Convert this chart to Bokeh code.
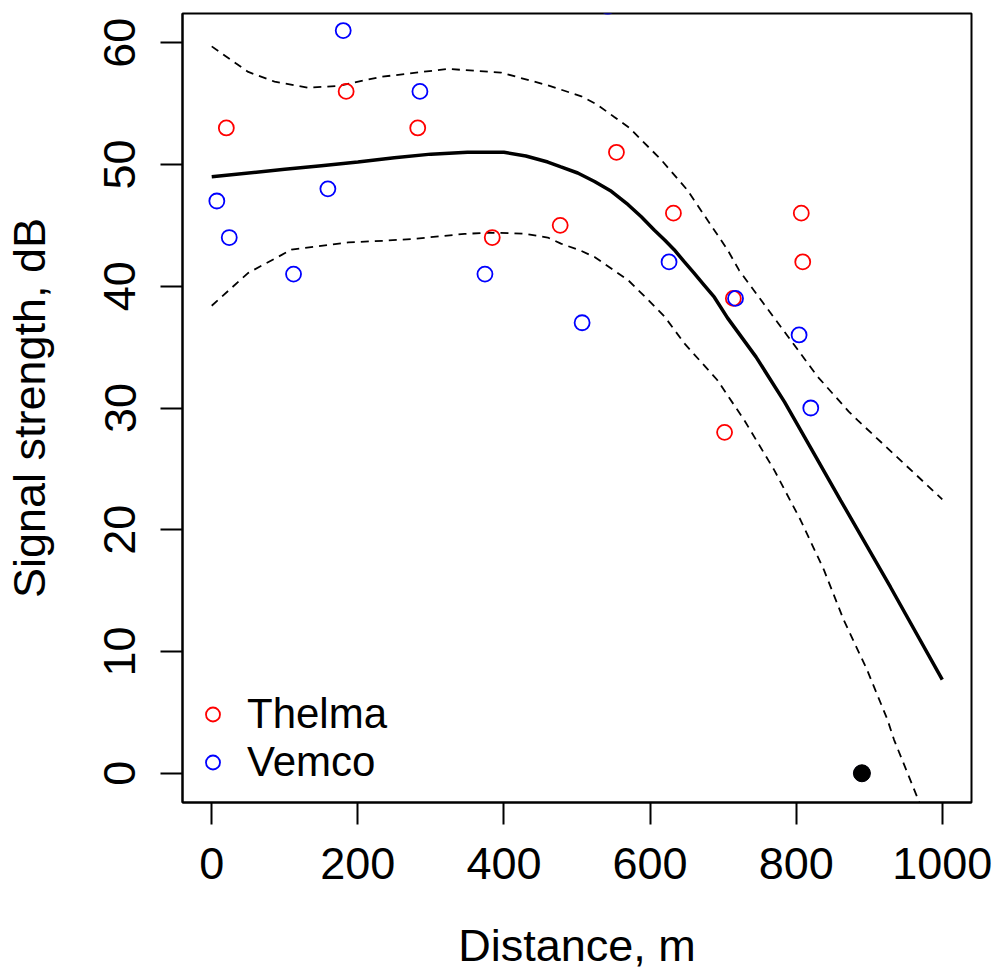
from bokeh.plotting import figure
from bokeh.models import Range1d, FixedTicker, Legend, LegendItem
from bokeh.embed import file_html
from bokeh.resources import INLINE

# ---- data ----
thelma_x = [20, 184, 282, 384, 477, 554, 632, 702, 714, 807, 809]
thelma_y = [53, 56, 53, 44, 45, 51, 46, 28, 39, 46, 42]

vemco_x = [7, 24, 112, 159, 180, 285, 374, 507, 542, 626, 717, 804, 820, 890]
vemco_y = [47, 44, 41, 48, 61, 56, 41, 37, 63, 42, 39, 36, 30, 0]

zero_x = [890]
zero_y = [0]

fit_x = [0, 100, 150, 200, 250, 300, 350, 400, 430, 460, 478, 501, 524, 547, 570, 588,
         606, 620, 633, 647, 660, 674, 688, 706, 745, 784, 825, 861, 929, 1000]
fit_y = [49.0, 49.6, 49.9, 50.2, 50.55, 50.85, 51.0, 51.0, 50.7, 50.2, 49.8, 49.3, 48.6,
         47.8, 46.7, 45.7, 44.6, 43.8, 43.0, 42.0, 41.1, 40.1, 39.1, 37.4, 34.2, 30.5,
         26.2, 22.4, 15.3, 7.7]

upper_x = [0, 50, 86, 132, 173, 232, 323, 396, 460, 506, 528, 551, 572, 590, 615, 651,
           679, 706, 722, 765, 802, 829, 872, 884, 1000]
upper_y = [59.7, 57.6, 56.8, 56.3, 56.45, 57.2, 57.85, 57.55, 56.5, 55.6, 54.9, 53.9,
           53.0, 51.9, 50.4, 47.9, 45.4, 43.0, 41.3, 37.8, 34.8, 32.6, 29.7, 29.0, 22.5]

lower_x = [0, 50, 109, 187, 240, 278, 346, 380, 414, 430, 460, 478, 506, 524, 570, 597,
           620, 647, 692, 729, 770, 806, 838, 865, 897, 925, 934, 968, 990]
lower_y = [38.4, 41.1, 43.0, 43.6, 43.75, 43.9, 44.3, 44.4, 44.35, 44.3, 44.0, 43.5,
           42.9, 42.4, 40.5, 38.9, 37.5, 35.3, 32.3, 29.0, 24.9, 20.8, 16.7, 12.6, 8.5,
           4.4, 2.75, -2.3, -6.0]

x_ticks = [0, 200, 400, 600, 800, 1000]
y_ticks = [0, 10, 20, 30, 40, 50, 60]

FONT = "Liberation Sans"
FS = "45px"
LEG_FS = "42px"

p = figure(frame_width=789, frame_height=789,
           min_border_left=182, min_border_right=25,
           min_border_top=13, min_border_bottom=169,
           x_range=Range1d(-40, 1040), y_range=Range1d(-2.4, 62.4),
           output_backend="svg", toolbar_location=None,
           background_fill_color="white", border_fill_color="white")

p.xgrid.visible = False
p.ygrid.visible = False
p.outline_line_color = "black"
p.outline_line_width = 2

p.xaxis.ticker = FixedTicker(ticks=x_ticks)
p.yaxis.ticker = FixedTicker(ticks=y_ticks)
for ax in (p.xaxis[0], p.yaxis[0]):
    ax.axis_line_color = "black"
    ax.axis_line_width = 2
    ax.major_tick_line_color = "black"
    ax.major_tick_line_width = 2
    ax.major_tick_out = 22
    ax.major_tick_in = 0
    ax.minor_tick_line_color = None
    ax.major_label_text_font = FONT
    ax.major_label_text_font_size = FS
    ax.major_label_text_color = "black"
    ax.axis_label_text_font = FONT
    ax.axis_label_text_font_size = FS
    ax.axis_label_text_font_style = "normal"
    ax.axis_label_text_color = "black"

p.xaxis.axis_label = "Distance, m"
p.yaxis.axis_label = "Signal strength, dB"
p.yaxis.major_label_orientation = "vertical"
p.xaxis.major_label_standoff = 23
p.yaxis.major_label_standoff = 25
p.xaxis.axis_label_standoff = 38
p.yaxis.axis_label_standoff = 47

# curves
p.line(fit_x, fit_y, line_color="black", line_width=3.5)
p.line(upper_x, upper_y, line_color="black", line_width=1.8, line_dash="8 6")
p.line(lower_x, lower_y, line_color="black", line_width=1.8, line_dash="8 6")

# points
r_t = p.scatter(thelma_x, thelma_y, marker="circle", size=15, fill_color=None,
                line_color="red", line_width=1.8)
r_v = p.scatter(vemco_x, vemco_y, marker="circle", size=15, fill_color=None,
                line_color="blue", line_width=1.8)
p.scatter(zero_x, zero_y, marker="circle", size=17, fill_color="black",
          line_color="black", line_width=1)


def make_legend(label, renderer, loc):
    return Legend(items=[LegendItem(label=label, renderers=[renderer])],
                  location=loc, padding=0, margin=0,
                  glyph_width=35, glyph_height=46, label_standoff=17,
                  label_text_font=FONT, label_text_font_size=LEG_FS,
                  label_text_color="black",
                  border_line_color=None, background_fill_alpha=0)


p.add_layout(make_legend("Thelma", r_t, (13, 64)))
p.add_layout(make_legend("Vemco", r_v, (13, 16)))

open("out.html", "w").write(file_html(p, INLINE))
